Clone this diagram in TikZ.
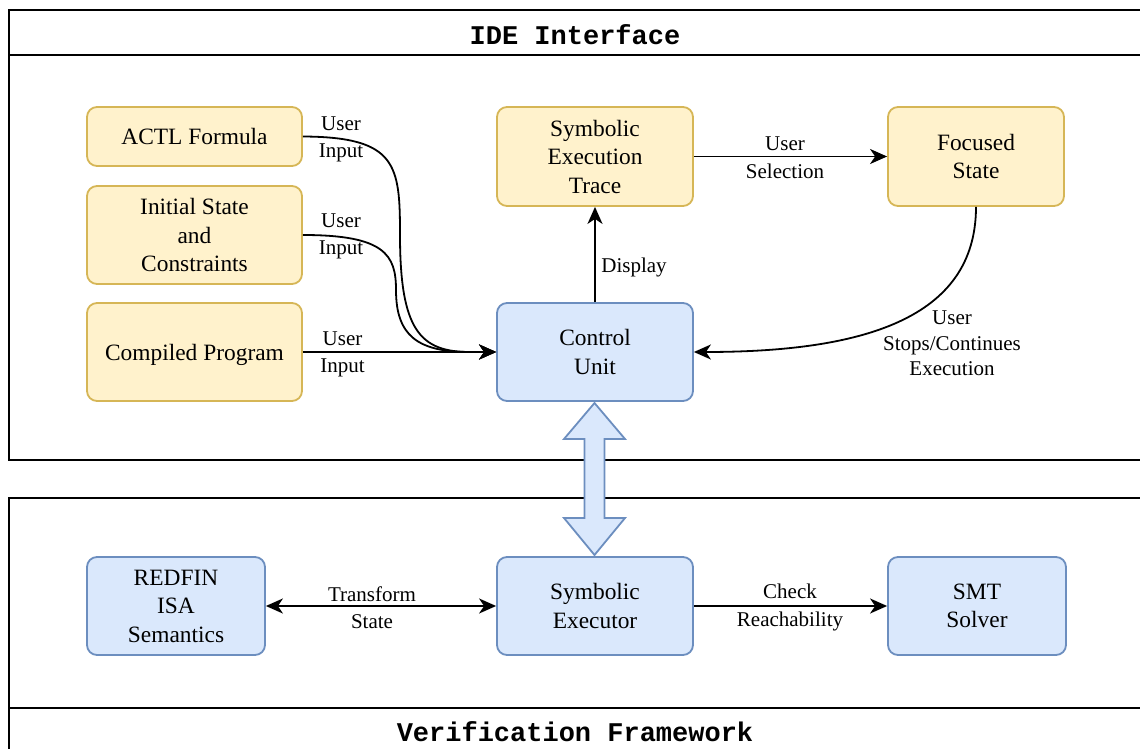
\documentclass[tikz,border=0pt]{standalone}
\usepackage{fontspec}
\setmainfont{Liberation Serif}
\newfontfamily\titlefont{Liberation Mono}
\usetikzlibrary{arrows.meta}

\definecolor{ylwfill}{HTML}{FFF2CC}
\definecolor{ylwline}{HTML}{D6B656}
\definecolor{bluefill}{HTML}{DAE8FC}
\definecolor{blueline}{HTML}{6C8EBF}

\tikzset{
  box/.style={rounded corners=10pt, line width=1.8pt, align=center, inner sep=0pt,
    font=\fontsize{23.4}{28.5}\selectfont},
  ybox/.style={box, draw=ylwline, fill=ylwfill},
  bbox/.style={box, draw=blueline, fill=bluefill},
  conn/.style={line width=1.8pt, -{Stealth[length=17pt,width=15pt,inset=5pt]}},
  biconn/.style={line width=1.8pt, {Stealth[length=17pt,width=15pt,inset=5pt]}-{Stealth[length=17pt,width=15pt,inset=5pt]}},
  lbl/.style={align=center, inner sep=0pt, font=\fontsize{21}{27.5}\selectfont},
  frame/.style={line width=1.8pt, draw=black},
  title/.style={inner sep=0pt, font=\titlefont\bfseries\fontsize{27}{30}\selectfont}
}

\begin{document}
\begin{tikzpicture}[x=1pt, y=-1pt]
  \useasboundingbox (0,0) rectangle (1140,749);
  \clip (0,0) rectangle (1140,749);

  % outer frames with title bars
  \draw[frame] (9,10) rectangle (1160,460);
  \draw[frame] (9,55) -- (1160,55);
  \node[title] (ideT) at (575,35) {IDE Interface};
  \draw[frame] (9,498) rectangle (1160,780);
  \draw[frame] (9,708) -- (1160,708);
  \node[title] (vfT) at (575,732) {Verification Framework};

  % IDE components
  \node[ybox, minimum width=215pt, minimum height=59pt] (actl) at (194.5,136.5) {ACTL Formula};
  \node[ybox, minimum width=215pt, minimum height=98pt] (init) at (194.5,235) {Initial State\\and\\Constraints};
  \node[ybox, minimum width=215pt, minimum height=98pt] (comp) at (194.5,352) {\raisebox{-3pt}[\height][\depth]{Compiled Program}};
  \node[ybox, minimum width=196pt, minimum height=99pt] (trace) at (595,156.5) {Symbolic\\Execution\\Trace};
  \node[ybox, minimum width=176pt, minimum height=99pt] (focus) at (976,156.5) {Focused\\State};
  \node[bbox, minimum width=196pt, minimum height=98pt] (cu) at (595,352) {Control\\Unit};

  % verification components
  \node[bbox, minimum width=178pt, minimum height=98pt] (isa) at (176,606) {REDFIN\\ISA\\Semantics};
  \node[bbox, minimum width=196pt, minimum height=98pt] (exec) at (595,606) {Symbolic\\Executor};
  \node[bbox, minimum width=178pt, minimum height=98pt] (smt) at (977,606) {SMT\\Solver};

  % link between control unit and executor
  \draw[line width=1.8pt, draw=blueline, fill=bluefill, line join=miter]
    (594.5,403) -- (625,439) -- (604.5,439) -- (604.5,518) -- (625,518)
    -- (594.5,555) -- (564,518) -- (584.5,518) -- (584.5,439) -- (564,439) -- cycle;

  % user inputs
  \draw[conn] (actl.east) .. controls (397,137) and (400,165) .. (400,235)
    .. controls (400,330) and (420,352) .. (470,352) -- (cu.west);
  \draw[conn] (init.east) .. controls (385,235) and (396,255) .. (396,290)
    .. controls (396,336) and (418,352) .. (470,352) -- (cu.west);
  \draw[conn] (comp.east) -- (cu.west);
  \node[lbl] (l1) at (341,139.5) {User\\Input};
  \node[lbl] (l2) at (341,236.5) {User\\Input};
  \node[lbl] (l3) at (342.5,354.5) {User\\Input};

  \draw[conn] (cu.north) -- (trace.south);
  \node[lbl] (ld) at (634,267.5) {Display};
  \draw[conn] (trace.east) -- (focus.west);
  \node[lbl] (ls) at (785,157.5) {User\\Selection};
  \draw[conn] (focus.south) .. controls (976,320) and (860,352) .. (cu.east);
  \node[lbl, font=\fontsize{21}{25.5}\selectfont] (lc) at (952,343.5) {User\\Stops/Continues\\Execution};

  % verification links
  \draw[biconn] (isa.east) -- (exec.west);
  \node[lbl] (lt) at (372,607.5) {Transform\\State};
  \draw[conn] (exec.east) -- (smt.west);
  \node[lbl] (lr) at (790,607.5) {Check\\Reachability};
\end{tikzpicture}
\end{document}
